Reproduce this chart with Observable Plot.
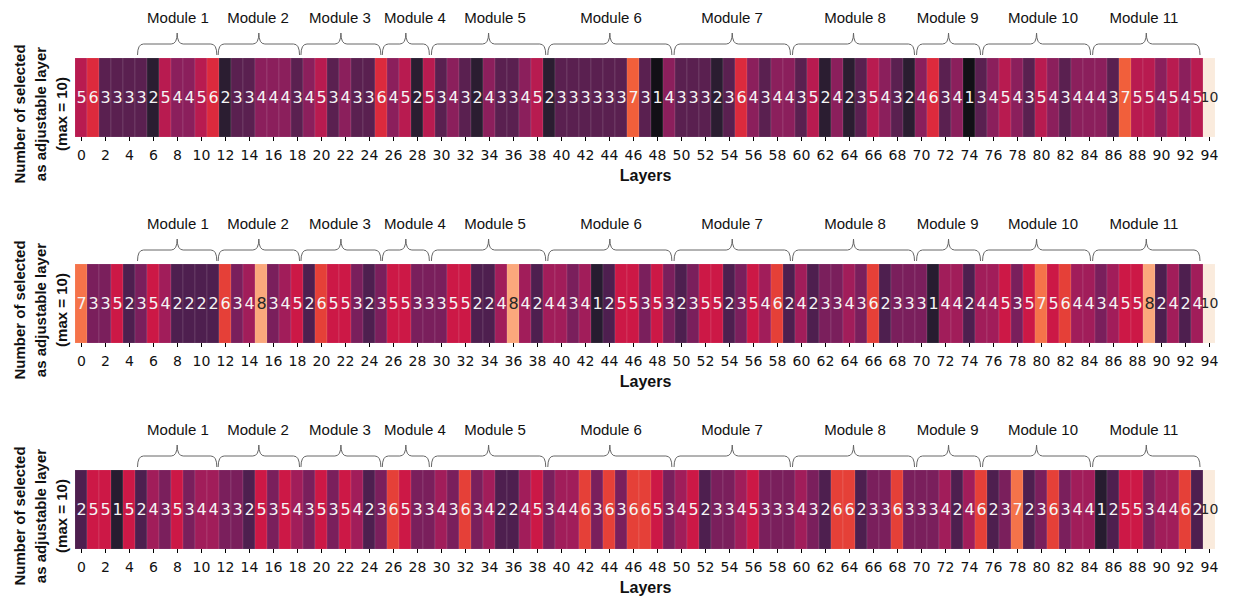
<!DOCTYPE html>
<html>
<head>
<meta charset="utf-8">
<script src="https://cdn.jsdelivr.net/npm/d3@7"></script>
<script src="https://cdn.jsdelivr.net/npm/@observablehq/plot@0.6"></script>
<style>
  body { margin: 0; background: #fff; }
  #chart svg { display: block; }
</style>
</head>
<body>
<div id="chart"></div>
<script>
// ---------- data ----------
const layers = d3.range(95);
const run1 = [
  5,6,3,3,3,3,2,5,4,4,5,6,2,3,3,4,4,4,3,4,5,3,4,3,3,6,4,5,2,5,3,4,
  3,2,4,3,3,4,5,2,3,3,3,3,3,3,7,3,1,4,3,3,3,2,3,6,4,3,4,4,3,5,2,
  4,2,3,5,4,3,2,4,6,3,4,1,3,4,5,4,3,5,4,3,4,4,4,3,7,5,5,4,5,4,5,10
];
const run2 = [
  7,3,3,5,2,3,5,4,2,2,2,2,6,3,4,8,3,4,5,2,6,5,5,3,2,3,5,5,3,3,3,5,
  5,2,2,4,8,4,2,4,4,3,4,1,2,5,5,3,5,3,2,3,5,5,2,3,5,4,6,2,4,2,3,
  3,4,3,6,2,3,3,3,1,4,4,2,4,4,5,3,5,7,5,6,4,4,3,4,5,5,8,2,4,2,4,10
];
const run3 = [
  2,5,5,1,5,2,4,3,5,3,4,4,3,3,2,5,3,5,4,3,5,3,5,4,2,3,6,5,3,3,4,3,
  6,3,4,2,2,4,5,3,4,4,6,3,6,3,6,6,5,3,4,5,2,3,3,4,5,3,3,3,4,3,2,
  6,6,2,3,3,6,3,3,3,4,2,4,6,2,3,7,2,3,6,3,4,4,1,2,5,5,3,4,4,6,2,10
];
const moduleNames = ["Module 1","Module 2","Module 3","Module 4","Module 5","Module 6",
                     "Module 7","Module 8","Module 9","Module 10","Module 11"];
// brace extents and label centres in layer units (0 = left edge of layer 0)
const moduleFrom = [5.21, 11.93, 18.83, 25.61, 29.70, 39.40, 49.92, 59.79, 70.13, 75.63, 84.80];
const moduleTo   = [11.82, 18.71, 25.49, 29.53, 39.23, 49.74, 59.62, 69.96, 75.46, 84.63, 93.75];
const moduleLabelAt = [8.58, 15.25, 22.08, 28.33, 35.0, 44.67, 54.75, 65.0, 72.72, 80.67, 89.08];
const tickLayers = d3.range(0, 95, 2);
const yLabelLines = ["Number of selected", "as adjustable layer", "(max = 10)"];
const xLabel = "Layers";
const colorDomain = [1,2,3,4,5,6,7,8,9,10];

// ---------- styles ----------
const paletteA = ["#121016","#2b1d31","#5a2050","#8b1f5c","#b81b50","#dc2a3d","#f15f3b","#f6956c","#f8c2a2","#faebdd"];
const paletteB = ["#271c30","#4e1f4f","#7a1f5c","#a11d5a","#cc1846","#e54038","#f5734a","#fba87c","#fbcfb1","#faebdd"];

const modules = moduleNames.map((name, i) => ({name, from: moduleFrom[i], to: moduleTo[i], at: moduleLabelAt[i]}));

function bracesMark(index, scales, values, dimensions) {
  const x = scales.x;
  const step = x(1) - x(0);
  const origin = x(0);
  const top = dimensions.marginTop;
  const g = d3.create("svg:g");
  const yb = top - 3, yh = top - 14, yp = top - 25, r = 6;
  for (const m of modules) {
    const x0 = origin + m.from * step;
    const x1 = origin + m.to * step;
    const xm = (x0 + x1) / 2;
    const p = `M${x0},${yb} Q${x0},${yh} ${x0 + r},${yh} L${xm - r},${yh} Q${xm},${yh} ${xm},${yp} ` +
              `Q${xm},${yh} ${xm + r},${yh} L${x1 - r},${yh} Q${x1},${yh} ${x1},${yb}`;
    g.append("path").attr("d", p).attr("fill", "none").attr("stroke", "#666").attr("stroke-width", 1);
    g.append("text").attr("x", origin + m.at * step).attr("y", top - 40).attr("text-anchor", "middle")
      .attr("dy", "0.35em").attr("font-family", "Liberation Sans, Arial, sans-serif")
      .attr("font-size", 15).attr("fill", "#111").text(m.name);
  }
  return g.node();
}

function row(values, palette, height, labelShift) {
  const data = layers.map((l, i) => ({layer: l, value: values[i]}));
  const cellH = 79;
  return Plot.plot({
    width: 1237,
    height,
    marginTop: 58,
    marginBottom: height - 58 - cellH,
    marginLeft: 75,
    marginRight: 22,
    style: {fontFamily: "DejaVu Sans, sans-serif", fontSize: "14px", background: "white", overflow: "visible"},
    x: {type: "band", domain: layers, padding: 0, axis: null},
    color: {type: "ordinal", domain: colorDomain, range: palette},
    marks: [
      Plot.cell(data, {x: "layer", fill: "value", stroke: "white", strokeOpacity: 0.18, strokeWidth: 0.6}),
      Plot.text(data.filter(d => d.value < 8), {x: "layer", text: "value", fill: "#f4f4f4", fontSize: 16}),
      Plot.text(data.filter(d => d.value >= 8 && d.value < 10), {x: "layer", text: "value", fill: "#262626", fontSize: 16}),
      Plot.text(data.filter(d => d.value >= 10), {x: "layer", text: "value", fill: "#262626", fontSize: 14}),
      Plot.axisX({ticks: tickLayers, tickSize: 4, tickPadding: 9, fontSize: 14, label: null, fill: "#111"}),
      Plot.text([xLabel], {frameAnchor: "bottom", text: d => d, dy: 38, lineAnchor: "middle",
        fontWeight: "bold", fontSize: 16, fontFamily: "Liberation Sans, Arial, sans-serif", fill: "#111"}),
      ...yLabelLines.map((t, i) => Plot.text([t], {frameAnchor: "left", text: d => d, rotate: -90,
        textAnchor: "middle", lineAnchor: "middle",
        dx: [-55, -34, -13][i], dy: labelShift,
        fontWeight: "bold", fontSize: 15, fontFamily: "Liberation Sans, Arial, sans-serif", fill: "#111"})),
      bracesMark
    ]
  });
}

const chart = document.getElementById("chart");
chart.append(row(run1, paletteA, 206, 16));
chart.append(row(run2, paletteB, 206, 6));
chart.append(row(run3, paletteB, 184, 6));
</script>
</body>
</html>
